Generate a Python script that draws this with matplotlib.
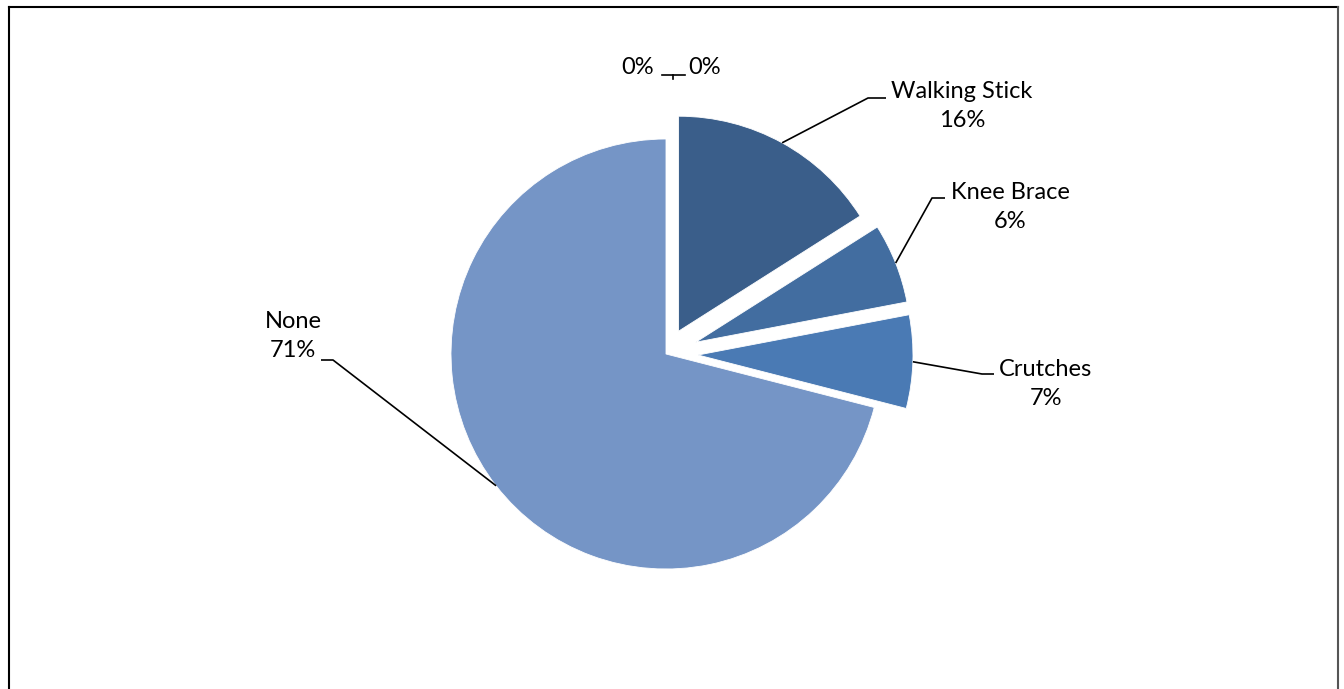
import numpy as np
import matplotlib.pyplot as plt
from matplotlib.lines import Line2D

# Walking aids used (share of respondents)
categories = ["", "", "Walking Stick", "Knee Brace", "Crutches", "None"]
shares = [0, 0, 16, 6, 7, 71]
colors = ["#7595C6", "#7595C6", "#3A5E8A", "#426DA0", "#4A7AB4", "#7595C6"]
explode = [0, 0, 26, 32, 32, 0]

W, H = 1344, 689

# where each label sits (pixel coords, top-left origin) and its leader elbow
label_pos = [(638, 67), (705, 67), (962, 106), (1010, 207), (1046, 384), (293, 336)]
elbows = [None, None,
          [(868, 98), (886, 98)],
          [(932, 198), (945, 198)],
          [(982, 374), (994, 374)],
          [(333, 360), (321, 360)]]

plt.rcParams["font.family"] = ["Lato", "DejaVu Sans"]

fig = plt.figure(figsize=(W / 100, H / 100), dpi=100)
ax = fig.add_axes([0, 0, 1, 1])

wedges, _ = ax.pie(shares, colors=colors, startangle=90, counterclock=False,
                   radius=215, center=(666, H - 354), explode=explode,
                   wedgeprops=dict(edgecolor="white", linewidth=0.6))
ax.set_xlim(0, W)
ax.set_ylim(0, H)
ax.set_aspect("auto")
ax.axis("off")

total = sum(shares)
for w, name, val, (lx, ly), elb in zip(wedges, categories, shares, label_pos, elbows):
    pct = f"{round(100 * val / total)}%"
    txt = f"{name}\n{pct}" if name else pct
    ax.text(lx, H - ly, txt, ha="center", va="center", fontsize=17,
            linespacing=1.45, color="black")
    if elb is None:
        continue
    tm = np.deg2rad((w.theta1 + w.theta2) / 2)
    cx, cy = w.center
    sx, sy = cx + w.r * np.cos(tm), cy + w.r * np.sin(tm)
    xs = [sx] + [p[0] for p in elb]
    ys = [sy] + [H - p[1] for p in elb]
    ax.plot(xs, ys, color="black", lw=1.2, solid_capstyle="butt")

# tiny leader between the two zero labels
ax.plot([662, 685], [H - 74.5, H - 74.5], color="black", lw=1.2)
ax.plot([673, 673], [H - 74.5, H - 79], color="black", lw=1.2)

# chart area border (bottom edge falls outside)
fig.add_artist(Line2D([8.5 / W, 8.5 / W], [0, 1 - 7 / H], transform=fig.transFigure, color="black", lw=1.5))
fig.add_artist(Line2D([8.5 / W, 1338 / W], [1 - 7 / H, 1 - 7 / H], transform=fig.transFigure, color="black", lw=1.5))
fig.add_artist(Line2D([1338 / W, 1338 / W], [0, 1 - 7 / H], transform=fig.transFigure, color="#555555", lw=1.5))

fig.savefig("out.png", dpi=100)
